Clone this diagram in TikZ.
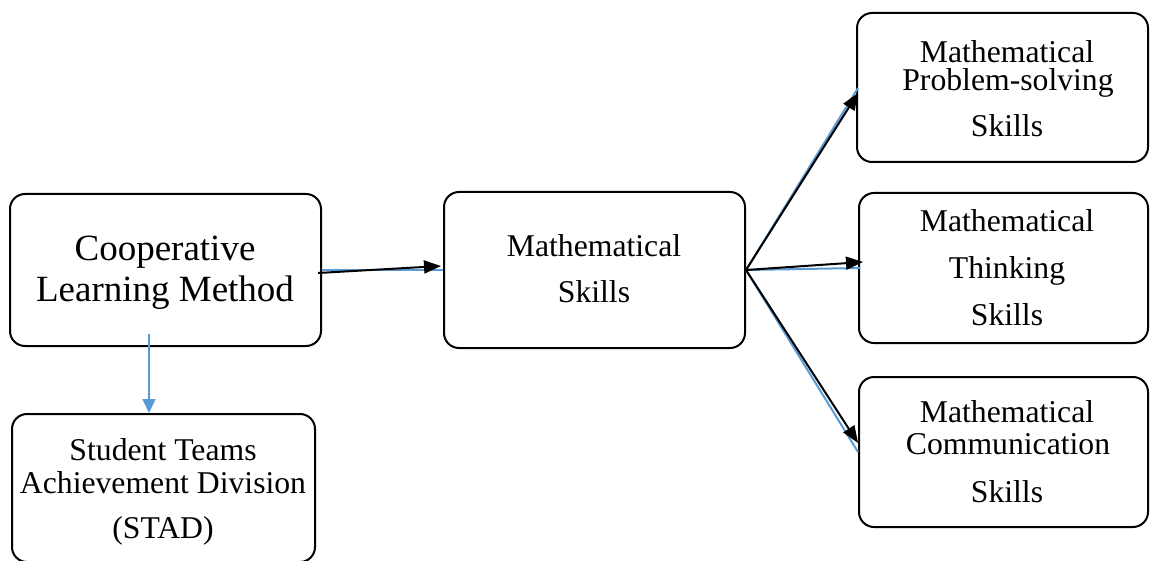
\documentclass[tikz,border=0pt]{standalone}
\usepackage{fontspec}
\setmainfont{Liberation Serif}
\usetikzlibrary{arrows.meta}
\definecolor{wblue}{RGB}{91,155,213}
\tikzset{
  box/.style={draw=black, line width=2pt, rounded corners=15pt, inner sep=0pt},
  txt/.style={anchor=base, inner sep=0pt, font=\fontsize{31.7}{38}\selectfont},
  tight/.style={text height=23pt, text depth=0pt},
  bigtxt/.style={anchor=base, inner sep=0pt, font=\fontsize{37}{44}\selectfont},
  blueline/.style={draw=wblue, line width=2pt},
  bluearrow/.style={draw=wblue, line width=1.5pt, -{Triangle[length=14pt,width=13pt]}},
  blackarrow/.style={draw=black, line width=2pt, -{Triangle[length=17pt,width=13pt]}}
}
\begin{document}
\begin{tikzpicture}[x=1pt,y=-1pt]
\useasboundingbox (0,0) rectangle (1150,561);
% boxes
\node[box, minimum width=311pt, minimum height=152pt] (b1) at (165.5,270) {};
\node[box, minimum width=301pt, minimum height=156pt] (b2) at (594.5,270) {};
\node[box, minimum width=291pt, minimum height=149pt] (b3) at (1002.5,87.5) {};
\node[box, minimum width=289pt, minimum height=150pt] (b4) at (1003.5,268) {};
\node[box, minimum width=289pt, minimum height=150pt] (b5) at (1003.5,452) {};
\node[box, minimum width=303pt, minimum height=148pt] (b6) at (163.5,488) {};
% texts
\node[bigtxt] (t1a) at (165,261) {Cooperative};
\node[bigtxt] (t1b) at (165,301) {Learning Method};
\node[txt] (t2a) at (594,256) {Mathematical};
\node[txt] (t2b) at (594,302) {Skills};
\node[txt, tight] (t3a) at (1007,63) {Mathematical};
\node[txt, tight] (t3b) at (1008,91) {Problem-solving};
\node[txt] (t3c) at (1007,137) {Skills};
\node[txt] (t4a) at (1007,232) {Mathematical};
\node[txt] (t4b) at (1007,278) {Thinking};
\node[txt] (t4c) at (1007,325) {Skills};
\node[txt, tight] (t5a) at (1007,422) {Mathematical};
\node[txt, tight] (t5b) at (1008,454) {Communication};
\node[txt] (t5c) at (1007,502) {Skills};
\node[txt, tight] (t6a) at (163,460) {Student Teams};
\node[txt, tight] (t6b) at (163,493) {Achievement Division};
\node[txt] (t6c) at (163,538) {(STAD)};
% coordinates for connector ends
\coordinate (e3) at (858,88);
\coordinate (e4) at (860,268);
\coordinate (e5) at (858,452);
\coordinate (s1) at (318,273);
\coordinate (k1) at (441,266);
\coordinate (k3) at (858,93);
\coordinate (k4) at (863,262);
\coordinate (k5) at (858,443);
\coordinate (d0) at (149,334);
% blue connectors
\draw[blueline] (b1.east) -- (b2.west);
\draw[blueline] (b2.east) -- (e3);
\draw[blueline] (b2.east) -- (e4);
\draw[blueline] (b2.east) -- (e5);
\draw[bluearrow] (d0) -- (d0 |- b6.north);
% black arrows
\draw[blackarrow] (s1) -- (k1);
\draw[blackarrow] (b2.east) -- (k3);
\draw[blackarrow] (b2.east) -- (k4);
\draw[blackarrow] (b2.east) -- (k5);
\end{tikzpicture}
\end{document}
